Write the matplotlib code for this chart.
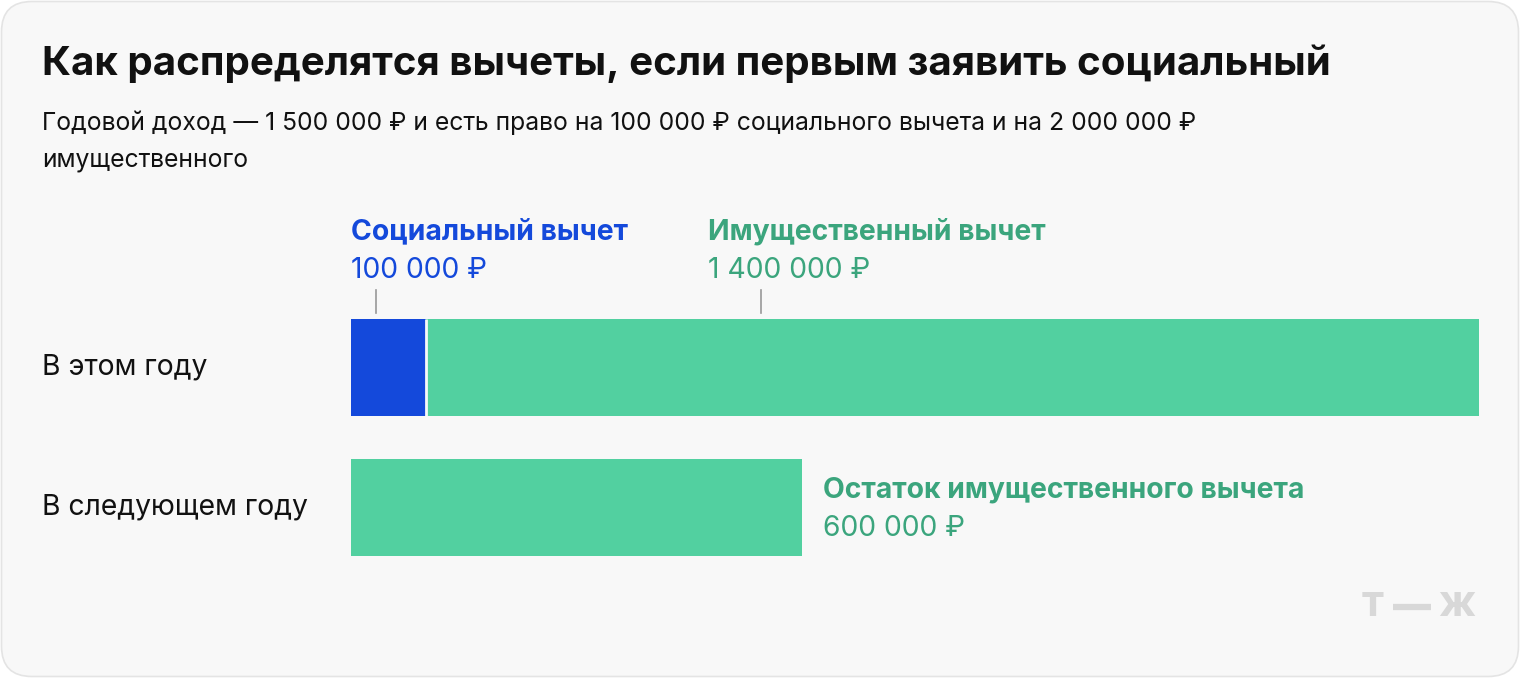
import matplotlib.pyplot as plt
import matplotlib.transforms as mtransforms
from matplotlib.patches import FancyBboxPatch
from matplotlib.lines import Line2D

plt.rcParams['font.family'] = ['Inter', 'DejaVu Sans']

# data
rows = ["В этом году", "В следующем году"]
social = [100000, 0]
property_ded = [1400000, 600000]
total_income = 1500000

title = "Как распределятся вычеты, если первым заявить социальный"
subtitle1 = "Годовой доход — 1 500 000 ₽ и есть право на 100 000 ₽ социального вычета и на 2 000 000 ₽"
subtitle2 = "имущественного"

blue = '#1449DB'
green_bar = '#52D0A0'
green_txt = '#3BA57D'

W, H = 1520, 678
fig = plt.figure(figsize=(W / 100, H / 100), dpi=100)
fig.patch.set_facecolor('white')

# rounded card background
card = FancyBboxPatch((1.5 / W, 1.5 / H), (W - 3) / W, (H - 3) / H,
                      boxstyle="round,pad=0,rounding_size=0.02",
                      transform=fig.transFigure, facecolor='#F8F8F8',
                      edgecolor='#E4E4E4', linewidth=1.2, mutation_aspect=W / H, zorder=-10)
fig.patches.append(card)

fig.text(42 / W, 1 - 64 / H, title, fontsize=29, fontweight='bold', color='#111111', va='center')
fig.text(42 / W, 1 - 123 / H, subtitle1, fontsize=17.8, color='#111111', va='center')
fig.text(42 / W, 1 - 160 / H, subtitle2, fontsize=17.8, color='#111111', va='center')

# bars axes: 0 -> 351px, 1.5M -> 1479px
ax = fig.add_axes([351 / W, 1 - 577.5 / H, 1128 / W, 280 / H])
ax.set_facecolor('none')
ypos = [0, 1]
bh = 97 / 140
ax.barh(ypos, social, height=bh, color=blue, edgecolor='none')
ax.barh(ypos, property_ded, left=social, height=bh, color=green_bar, edgecolor='none')
# thin white separator between segments
ax.vlines(social[0], -bh / 2, bh / 2, color='#F8F8F8', linewidth=2)
ax.set_xlim(0, total_income)
ax.set_ylim(1.5, -0.5)
ax.axis('off')

for i, r in enumerate(rows):
    fig.text(42 / W, 1 - (367.5 + 140 * i) / H, r, fontsize=20.4, color='#111111', va='center')

tr = mtransforms.blended_transform_factory(ax.transData, fig.transFigure)

def py(p):
    return 1 - p / H

# labels above the first bar
ax.text(0, py(232), "Социальный вычет", transform=tr, fontsize=20.4, fontweight='bold',
        color=blue, va='center', ha='left')
ax.text(0, py(271), f"{social[0]:,} ₽".replace(',', ' '), transform=tr, fontsize=20.4,
        color=blue, va='center', ha='left')
ax.plot([33000, 33000], [py(290), py(313)], transform=tr, color='#999999', lw=1.2, clip_on=False)

gx = 475000
ax.text(gx, py(232), "Имущественный вычет", transform=tr, fontsize=20.4, fontweight='bold',
        color=green_txt, va='center', ha='left')
ax.text(gx, py(271), f"{property_ded[0]:,} ₽".replace(',', ' '), transform=tr, fontsize=20.4,
        color=green_txt, va='center', ha='left')
ax.plot([545000, 545000], [py(290), py(313)], transform=tr, color='#999999', lw=1.2, clip_on=False)

# label for next year remainder
rx = property_ded[1] + 27000
ax.text(rx, py(490), "Остаток имущественного вычета", transform=tr, fontsize=20.4,
        fontweight='bold', color=green_txt, va='center', ha='left')
ax.text(rx, py(529), f"{property_ded[1]:,} ₽".replace(',', ' '), transform=tr, fontsize=20.4,
        color=green_txt, va='center', ha='left')

# logo
logo_c = '#D8D8D8'
fig.text(1373 / W, 1 - 605 / H, "т", fontsize=31, fontweight='bold', color=logo_c,
         ha='center', va='center')
fig.lines.append(Line2D([1393 / W, 1431 / W], [1 - 607 / H, 1 - 607 / H],
                        transform=fig.transFigure, color=logo_c, lw=4.5, solid_capstyle='butt'))
fig.text(1457 / W, 1 - 605 / H, "ж", fontsize=31, fontweight='bold', color=logo_c,
         ha='center', va='center')

fig.savefig('out.png', dpi=100, facecolor='white')
